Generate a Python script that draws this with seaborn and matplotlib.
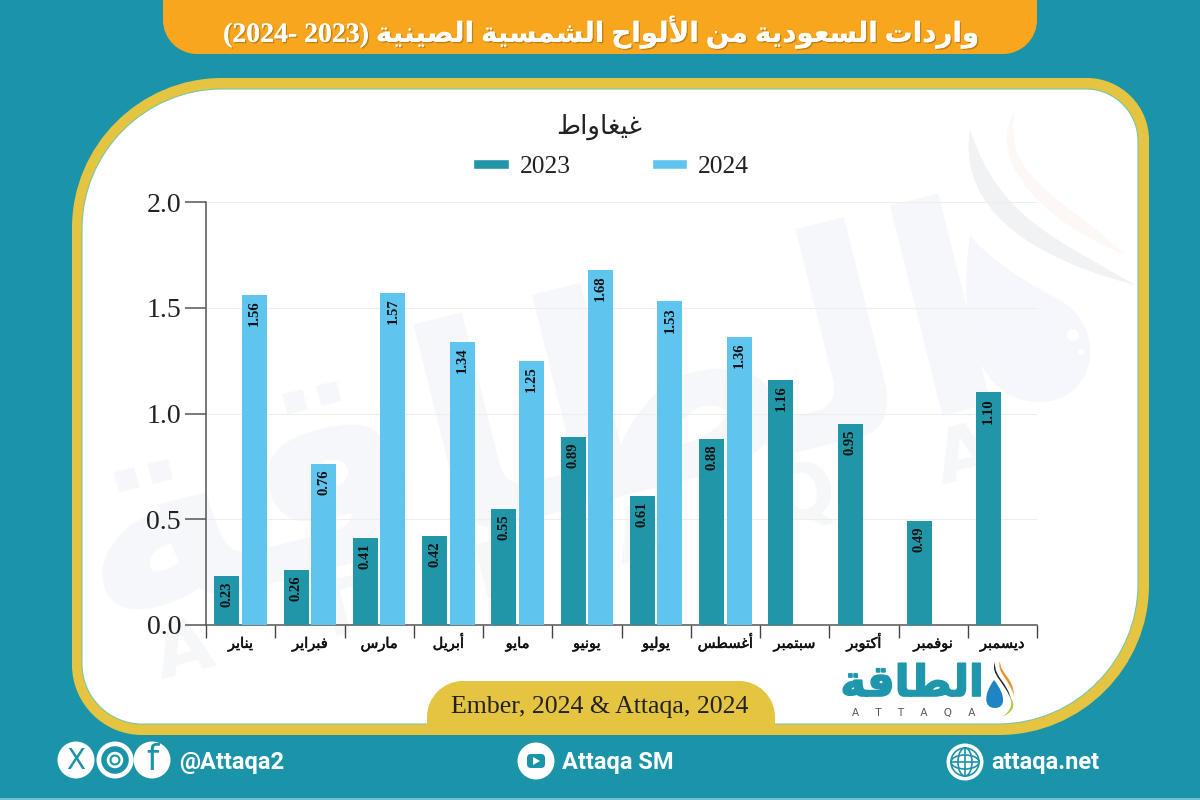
import numpy as np
import pandas as pd
import matplotlib
matplotlib.use("Agg")
import matplotlib.pyplot as plt
import seaborn as sns
from matplotlib.patches import PathPatch, Circle, FancyBboxPatch, Polygon, Ellipse
from matplotlib.path import Path
from matplotlib.lines import Line2D
from matplotlib.ticker import FixedLocator, NullFormatter
import matplotlib.patheffects as pe

# ---------- data ----------
months = ["يناير", "فبراير", "مارس", "أبريل", "مايو", "يونيو", "يوليو",
          "أغسطس", "سبتمبر", "أكتوبر", "نوفمبر", "ديسمبر"]
values_2023 = [0.23, 0.26, 0.41, 0.42, 0.55, 0.89, 0.61, 0.88, 1.16, 0.95, 0.49, 1.10]
values_2024 = [1.56, 0.76, 1.57, 1.34, 1.25, 1.68, 1.53, 1.36, None, None, None, None]
series_names = ["2023", "2024"]
y_ticks = [0.0, 0.5, 1.0, 1.5, 2.0]
title_ar = "واردات السعودية من الألواح الشمسية الصينية"
title_years = "(2024- 2023)"
unit_ar = "غيغاواط"
source_text = "Ember, 2024 & Attaqa, 2024"
brand_ar = "الطاقة"

# ---------- colours ----------
TEAL_BG = "#1b93a8"
GOLD = "#e4c441"
ORANGE = "#f9a61f"
BAR_23 = "#2196a8"
BAR_24 = "#5fc4ee"
WM = "#f5f7fa"

# ---------- Arabic shaping (matplotlib draws glyphs left to right, unshaped) ----------
FORMS = {
    "ا": (0xFE8D, 0xFE8E), "أ": (0xFE83, 0xFE84), "د": (0xFEA9, 0xFEAA), "ر": (0xFEAD, 0xFEAE),
    "و": (0xFEED, 0xFEEE), "ة": (0xFE93, 0xFE94),
    "ب": (0xFE8F, 0xFE90, 0xFE91, 0xFE92), "ت": (0xFE95, 0xFE96, 0xFE97, 0xFE98),
    "ح": (0xFEA1, 0xFEA2, 0xFEA3, 0xFEA4), "س": (0xFEB1, 0xFEB2, 0xFEB3, 0xFEB4),
    "ش": (0xFEB5, 0xFEB6, 0xFEB7, 0xFEB8), "ص": (0xFEB9, 0xFEBA, 0xFEBB, 0xFEBC),
    "ط": (0xFEC1, 0xFEC2, 0xFEC3, 0xFEC4), "ع": (0xFEC9, 0xFECA, 0xFECB, 0xFECC),
    "غ": (0xFECD, 0xFECE, 0xFECF, 0xFED0), "ف": (0xFED1, 0xFED2, 0xFED3, 0xFED4),
    "ق": (0xFED5, 0xFED6, 0xFED7, 0xFED8), "ك": (0xFED9, 0xFEDA, 0xFEDB, 0xFEDC),
    "ل": (0xFEDD, 0xFEDE, 0xFEDF, 0xFEE0), "م": (0xFEE1, 0xFEE2, 0xFEE3, 0xFEE4),
    "ن": (0xFEE5, 0xFEE6, 0xFEE7, 0xFEE8), "ي": (0xFEF1, 0xFEF2, 0xFEF3, 0xFEF4),
}
LAM_ALEF = {"ا": (0xFEFB, 0xFEFC), "أ": (0xFEF7, 0xFEF8)}


def shape(text):
    out = []
    for word in text.split(" "):
        glyphs = []
        i = 0
        prev_joins = False
        while i < len(word):
            ch = word[i]
            if ch == "ل" and i + 1 < len(word) and word[i + 1] in LAM_ALEF:
                glyphs.append(chr(LAM_ALEF[word[i + 1]][1 if prev_joins else 0]))
                prev_joins = False
                i += 2
                continue
            f = FORMS[ch]
            can_next = len(f) == 4 and i + 1 < len(word)
            if prev_joins and can_next:
                code = f[3]
            elif prev_joins:
                code = f[1]
            elif can_next:
                code = f[2]
            else:
                code = f[0]
            glyphs.append(chr(code))
            prev_joins = can_next
            i += 1
        out.append("".join(reversed(glyphs)))
    return " ".join(reversed(out))


def rrect(x0, y0, x1, y1, tl, tr, br, bl):
    k = 0.45
    v = [(x0 + tl, y0), (x1 - tr, y0),
         (x1 - tr * k, y0), (x1, y0 + tr * k), (x1, y0 + tr),
         (x1, y1 - br),
         (x1, y1 - br * k), (x1 - br * k, y1), (x1 - br, y1),
         (x0 + bl, y1),
         (x0 + bl * k, y1), (x0, y1 - bl * k), (x0, y1 - bl),
         (x0, y0 + tl),
         (x0, y0 + tl * k), (x0 + tl * k, y0), (x0 + tl, y0), (x0 + tl, y0)]
    c = [Path.MOVETO, Path.LINETO, Path.CURVE4, Path.CURVE4, Path.CURVE4, Path.LINETO,
         Path.CURVE4, Path.CURVE4, Path.CURVE4, Path.LINETO, Path.CURVE4, Path.CURVE4, Path.CURVE4,
         Path.LINETO, Path.CURVE4, Path.CURVE4, Path.CURVE4, Path.CLOSEPOLY]
    return Path(v, c)


def blob(points):
    """Closed shape from a start point followed by cubic Bezier triples."""
    c = [Path.MOVETO] + [Path.CURVE4] * (len(points) - 1)
    return Path(points, c)


sns.set_theme(style="white")
plt.rcParams["font.family"] = ["Liberation Serif", "DejaVu Sans"]

fig = plt.figure(figsize=(12, 8), dpi=100, facecolor=TEAL_BG)

# ---------- decoration layer in pixel coordinates ----------
bg = fig.add_axes([0, 0, 1, 1], zorder=0)
bg.set_xlim(0, 1200)
bg.set_ylim(800, 0)
bg.axis("off")
bg.add_patch(plt.Rectangle((0, 798), 1200, 2, color="#6cc3cf", lw=0))
bg.add_patch(PathPatch(rrect(163, -40, 1037, 54, 0, 0, 34, 34), fc=ORANGE, ec="none"))
bg.add_patch(PathPatch(rrect(72, 78, 1149, 735, 150, 62, 150, 70), fc=GOLD, ec="none"))
bg.add_patch(PathPatch(rrect(82, 89, 1138, 724, 140, 52, 140, 60), fc="white", ec="#7cc7a0", lw=0.8))

# watermark
bg.text(535, 432, shape(brand_ar), fontsize=205, fontweight="bold", color=WM, rotation=14,
        ha="center", va="center", family="DejaVu Sans", rotation_mode="anchor")
bg.text(575, 555, "A    T    T    A    Q    A", fontsize=54, color="#f5f7f9", rotation=14,
        fontweight="bold", ha="center", va="center", family="DejaVu Sans", rotation_mode="anchor")
bg.add_patch(PathPatch(blob([(970, 130), (960, 190), (1000, 250), (1135, 285),
                             (1060, 240), (1000, 220), (970, 130)]), fc="#f1f2f4", ec="none"))
bg.add_patch(PathPatch(blob([(1015, 110), (985, 160), (1040, 220), (1125, 255),
                             (1070, 200), (1000, 180), (1015, 110)]), fc="#fdf8f5", ec="none"))
bg.add_patch(PathPatch(blob([(970, 235), (960, 300), (965, 402), (1040, 402),
                             (1095, 402), (1110, 330), (1060, 300),
                             (1020, 280), (985, 255), (970, 235)]), fc="#f6f7fc", ec="none"))
bg.add_patch(Circle((1073, 335), 6, fc="white", ec="none"))
bg.add_patch(Circle((1081, 352), 3, fc="white", ec="none"))

# source tab
bg.add_patch(PathPatch(rrect(427, 681, 775, 726, 36, 36, 0, 0), fc=GOLD, ec="none"))
bg.text(600, 707, source_text, fontsize=18.6, color="#222222", ha="center", va="center",
        family="Liberation Serif")

# title
bg.text(601, 32, title_years + " " + shape(title_ar), fontsize=20, fontweight="bold", color="white",
        ha="center", va="center", family=["Liberation Serif", "DejaVu Sans"],
        path_effects=[pe.withSimplePatchShadow(offset=(1, -1), shadow_rgbFace="#9a6a10", alpha=0.6), pe.Normal()])

# unit title
bg.text(599, 127, shape(unit_ar), fontsize=18.7, color="#222222", ha="center", va="center",
        family="DejaVu Sans")

# logo
bg.text(912, 684, shape(brand_ar), fontsize=31, fontweight="bold", color="#1e97ad", ha="center",
        va="center", family="DejaVu Sans",
        path_effects=[pe.withStroke(linewidth=1.2, foreground="#1e97ad")])
bg.text(914, 713, "A     T     T     A     Q     A", fontsize=7.5, color="#555555", ha="center", va="center",
        family="DejaVu Sans")
bg.add_patch(PathPatch(blob([(994, 680), (983, 695), (984, 708), (995, 708),
                             (1006, 708), (1006, 695), (994, 680)]), fc="#1f84c4", ec="none"))
bg.add_patch(PathPatch(blob([(995, 662), (990, 675), (1005, 682), (1011, 700),
                             (1008, 682), (994, 678), (995, 662)]), fc="#222222", ec="none"))
bg.add_patch(PathPatch(blob([(1000, 661), (996, 672), (1010, 680), (1014, 696),
                             (1014, 678), (1000, 674), (1000, 661)]), fc="#e9902a", ec="none"))
bg.add_patch(PathPatch(blob([(1009, 695), (1015, 705), (1008, 715), (1000, 717),
                             (1012, 714), (1018, 706), (1009, 695)]), fc="#a9cf45", ec="none"))

# footer icons
for cx in (76, 115, 152):
    bg.add_patch(Circle((cx, 760), 18.5, fc="white", ec="none"))
bg.text(76, 761, "X", fontsize=20, color=TEAL_BG, ha="center", va="center", family="DejaVu Sans")
bg.add_patch(Circle((115, 760), 11, fc="none", ec=TEAL_BG, lw=4))
bg.add_patch(Circle((115, 760), 4.5, fc="none", ec=TEAL_BG, lw=1.5))
bg.text(152, 760, "f", fontsize=25, color=TEAL_BG, ha="center", va="center", family="DejaVu Sans")
bg.text(179, 762, "@Attaqa2", fontsize=17, fontweight="bold", color="white", ha="left", va="center",
        family="Roboto")
bg.add_patch(Circle((536, 761), 18.5, fc="white", ec="none"))
bg.add_patch(FancyBboxPatch((527, 754), 18, 14, boxstyle="round,pad=0,rounding_size=4", fc=TEAL_BG, ec="none"))
bg.add_patch(Polygon([(533, 757), (533, 765), (540, 761)], fc="white", ec="none"))
bg.text(562, 762, "Attaqa SM", fontsize=17, fontweight="bold", color="white", ha="left", va="center",
        family="Roboto")
bg.add_patch(Circle((965, 762), 18.5, fc="white", ec="none"))
bg.add_patch(Circle((965, 762), 14, fc="none", ec=TEAL_BG, lw=1.2))
bg.add_patch(Ellipse((965, 762), 14, 28, fc="none", ec=TEAL_BG, lw=1.2))
bg.add_patch(Ellipse((965, 762), 28, 14, fc="none", ec=TEAL_BG, lw=1.2))
bg.add_line(Line2D([951, 979], [762, 762], color=TEAL_BG, lw=1.2))
bg.add_line(Line2D([965, 965], [748, 776], color=TEAL_BG, lw=1.2))
bg.text(991, 762, "attaqa.net", fontsize=17, fontweight="bold", color="white", ha="left", va="center",
        family="Roboto")

# ---------- chart ----------
df = pd.DataFrame({
    "month": months * 2,
    "year": [series_names[0]] * len(months) + [series_names[1]] * len(months),
    "value": [np.nan if v is None else v for v in values_2023 + values_2024],
})

L, R, T, B = 206, 1037, 202, 625
ax = fig.add_axes([L / 1200, 1 - B / 800, (R - L) / 1200, (B - T) / 800], zorder=2)
ax.patch.set_alpha(0)
sns.barplot(data=df, x="month", y="value", hue="year", order=months, hue_order=series_names,
            palette=[BAR_23, BAR_24], width=0.794, gap=0.09, errorbar=None, saturation=1,
            linewidth=0, ax=ax, legend=False, zorder=3)

ax.set_xlim(-0.5, len(months) - 0.5)
ax.set_ylim(0, 2)
ax.set_xlabel("")
ax.set_ylabel("")
ax.set_yticks(y_ticks, [f"{t:.1f}" for t in y_ticks])
ax.yaxis.grid(True, color="#eceef0", lw=0.8, zorder=0)
ax.set_axisbelow(True)

ax.xaxis.set_major_locator(FixedLocator(range(len(months))))
ax.set_xticklabels([shape(m) for m in months], family="DejaVu Sans", fontsize=10.5, color="#111111",
                   path_effects=[pe.withStroke(linewidth=0.35, foreground="#111111")])
ax.xaxis.set_minor_locator(FixedLocator(np.arange(-0.5, len(months))))
ax.xaxis.set_minor_formatter(NullFormatter())
ax.tick_params(axis="x", which="major", length=0, pad=16.5)
ax.tick_params(axis="x", which="minor", length=9, width=1, color="#444444", bottom=True)
ax.tick_params(axis="y", which="major", length=15, width=1.1, color="#555555", pad=3,
               labelsize=20, labelcolor="#222222", left=True)
for lab in ax.get_xticklabels():
    lab.set_verticalalignment("baseline")
for lab in ax.get_yticklabels():
    lab.set_family("Liberation Serif")

sns.despine(ax=ax)
for s in ("left", "bottom"):
    ax.spines[s].set_color("#555555")
    ax.spines[s].set_linewidth(1.1)

for cont in ax.containers:
    labels = ax.bar_label(cont, fmt="%.2f", rotation=90, padding=-4, fontsize=10.5,
                          fontweight="bold", color="#111111", family="Liberation Serif", zorder=5)
    for lbl in labels:
        lbl.set_verticalalignment("top")
        lbl.set_horizontalalignment("center")

# legend
handles = [plt.Rectangle((0, 0), 1, 1, fc=BAR_23), plt.Rectangle((0, 0), 1, 1, fc=BAR_24)]
leg = fig.legend(handles, series_names, ncol=2, loc="center", bbox_to_anchor=(611 / 1200, 1 - 167 / 800),
                 frameon=False, handlelength=1.37, handleheight=0.22, handletextpad=0.43,
                 columnspacing=3.17, labelcolor="#222222", prop={"family": "Liberation Serif", "size": 18.4})

fig.savefig("out.png", dpi=100, facecolor=fig.get_facecolor())
